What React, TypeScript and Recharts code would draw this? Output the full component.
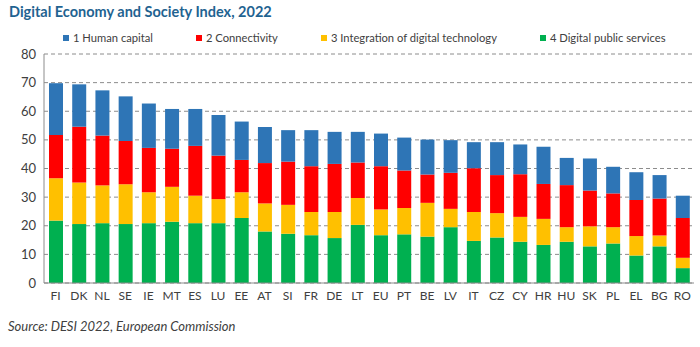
import React from "react";
import { BarChart, Bar, XAxis, YAxis, CartesianGrid } from "recharts";

const countries = ["FI","DK","NL","SE","IE","MT","ES","LU","EE","AT","SI","FR","DE","LT","EU","PT","BE","LV","IT","CZ","CY","HR","HU","SK","PL","EL","BG","RO"];
const humanCapital = [18.1,14.8,15.8,15.6,15.5,13.9,12.9,14.2,13.4,12.6,11.0,12.6,11.2,10.7,11.4,11.5,12.2,11.4,9.1,11.5,10.4,13.0,9.5,11.2,9.3,9.7,8.2,7.8];
const connectivity = [15.1,19.5,17.4,15.1,15.5,13.3,17.4,15.2,11.3,14.1,15.1,16.0,16.8,12.4,15.1,13.1,9.9,12.6,15.3,13.3,14.9,12.2,14.7,12.5,11.8,12.6,12.9,13.9];
const integration = [14.8,14.5,13.2,13.9,10.8,12.2,9.6,8.4,9.0,9.8,10.1,8.1,9.1,9.4,9.0,9.2,11.8,6.4,10.1,8.5,8.7,9.1,5.1,7.0,5.7,6.8,3.8,3.6];
const publicServices = [21.8,20.6,20.9,20.6,20.9,21.4,20.9,20.9,22.7,18.0,17.2,16.7,15.7,20.3,16.7,17.0,16.2,19.5,14.7,15.9,14.4,13.3,14.4,12.8,13.8,9.6,12.8,5.2];
const yTicks = [0,10,20,30,40,50,60,70,80];

const seriesNames = ["1 Human capital","2 Connectivity","3 Integration of digital technology","4 Digital public services"];
const colors = ["#2E75B6","#FF0000","#FFC000","#00B050"];

const data = countries.map((c, i) => ({
  country: c,
  hc: humanCapital[i],
  conn: connectivity[i],
  integ: integration[i],
  dps: publicServices[i],
}));

const font = "Lato, 'Open Sans', sans-serif";

export default function App() {
  return (
    <div style={{ position: "absolute", left: 0, top: 0, width: 700, height: 347, background: "#fff" }}>
      <div style={{ position: "absolute", left: 9, top: 3, fontFamily: font, fontWeight: 700, fontSize: 14.5, color: "#1F6391" }}>
        Digital Economy and Society Index, 2022
      </div>
      <div style={{ position: "absolute", left: 63, top: 31, display: "flex", gap: 43, fontFamily: font, fontSize: 11.2, color: "#404040", alignItems: "center" }}>
        {seriesNames.map((n, i) => (
          <div key={n} style={{ display: "flex", alignItems: "center" }}>
            <span style={{ width: 6, height: 6, background: colors[i], display: "inline-block", marginRight: 4 }} />
            <span>{n}</span>
          </div>
        ))}
      </div>
      <BarChart width={700} height={347} data={data} margin={{ top: 54, right: 6, bottom: 34, left: 0 }} barSize={14}>
        <CartesianGrid vertical={false} stroke="#8c8c8c" strokeDasharray="4 3" />
        <XAxis dataKey="country" interval={0} tickLine={false} axisLine={{ stroke: "#8c8c8c" }}
          tick={{ fill: "#404040", fontSize: 12, fontFamily: font }} height={30} />
        <YAxis domain={[0, 80]} ticks={yTicks} width={44} tickLine={false} axisLine={{ stroke: "#8c8c8c" }}
          tick={{ fill: "#404040", fontSize: 13, fontFamily: font }} />
        <Bar dataKey="dps" stackId="a" fill={colors[3]} name={seriesNames[3]} isAnimationActive={false} />
        <Bar dataKey="integ" stackId="a" fill={colors[2]} name={seriesNames[2]} isAnimationActive={false} />
        <Bar dataKey="conn" stackId="a" fill={colors[1]} name={seriesNames[1]} isAnimationActive={false} />
        <Bar dataKey="hc" stackId="a" fill={colors[0]} name={seriesNames[0]} isAnimationActive={false} />
      </BarChart>
      <div style={{ position: "absolute", left: 8, top: 318, fontFamily: font, fontStyle: "italic", fontSize: 13, color: "#404040" }}>
        Source: DESI 2022, European Commission
      </div>
    </div>
  );
}
